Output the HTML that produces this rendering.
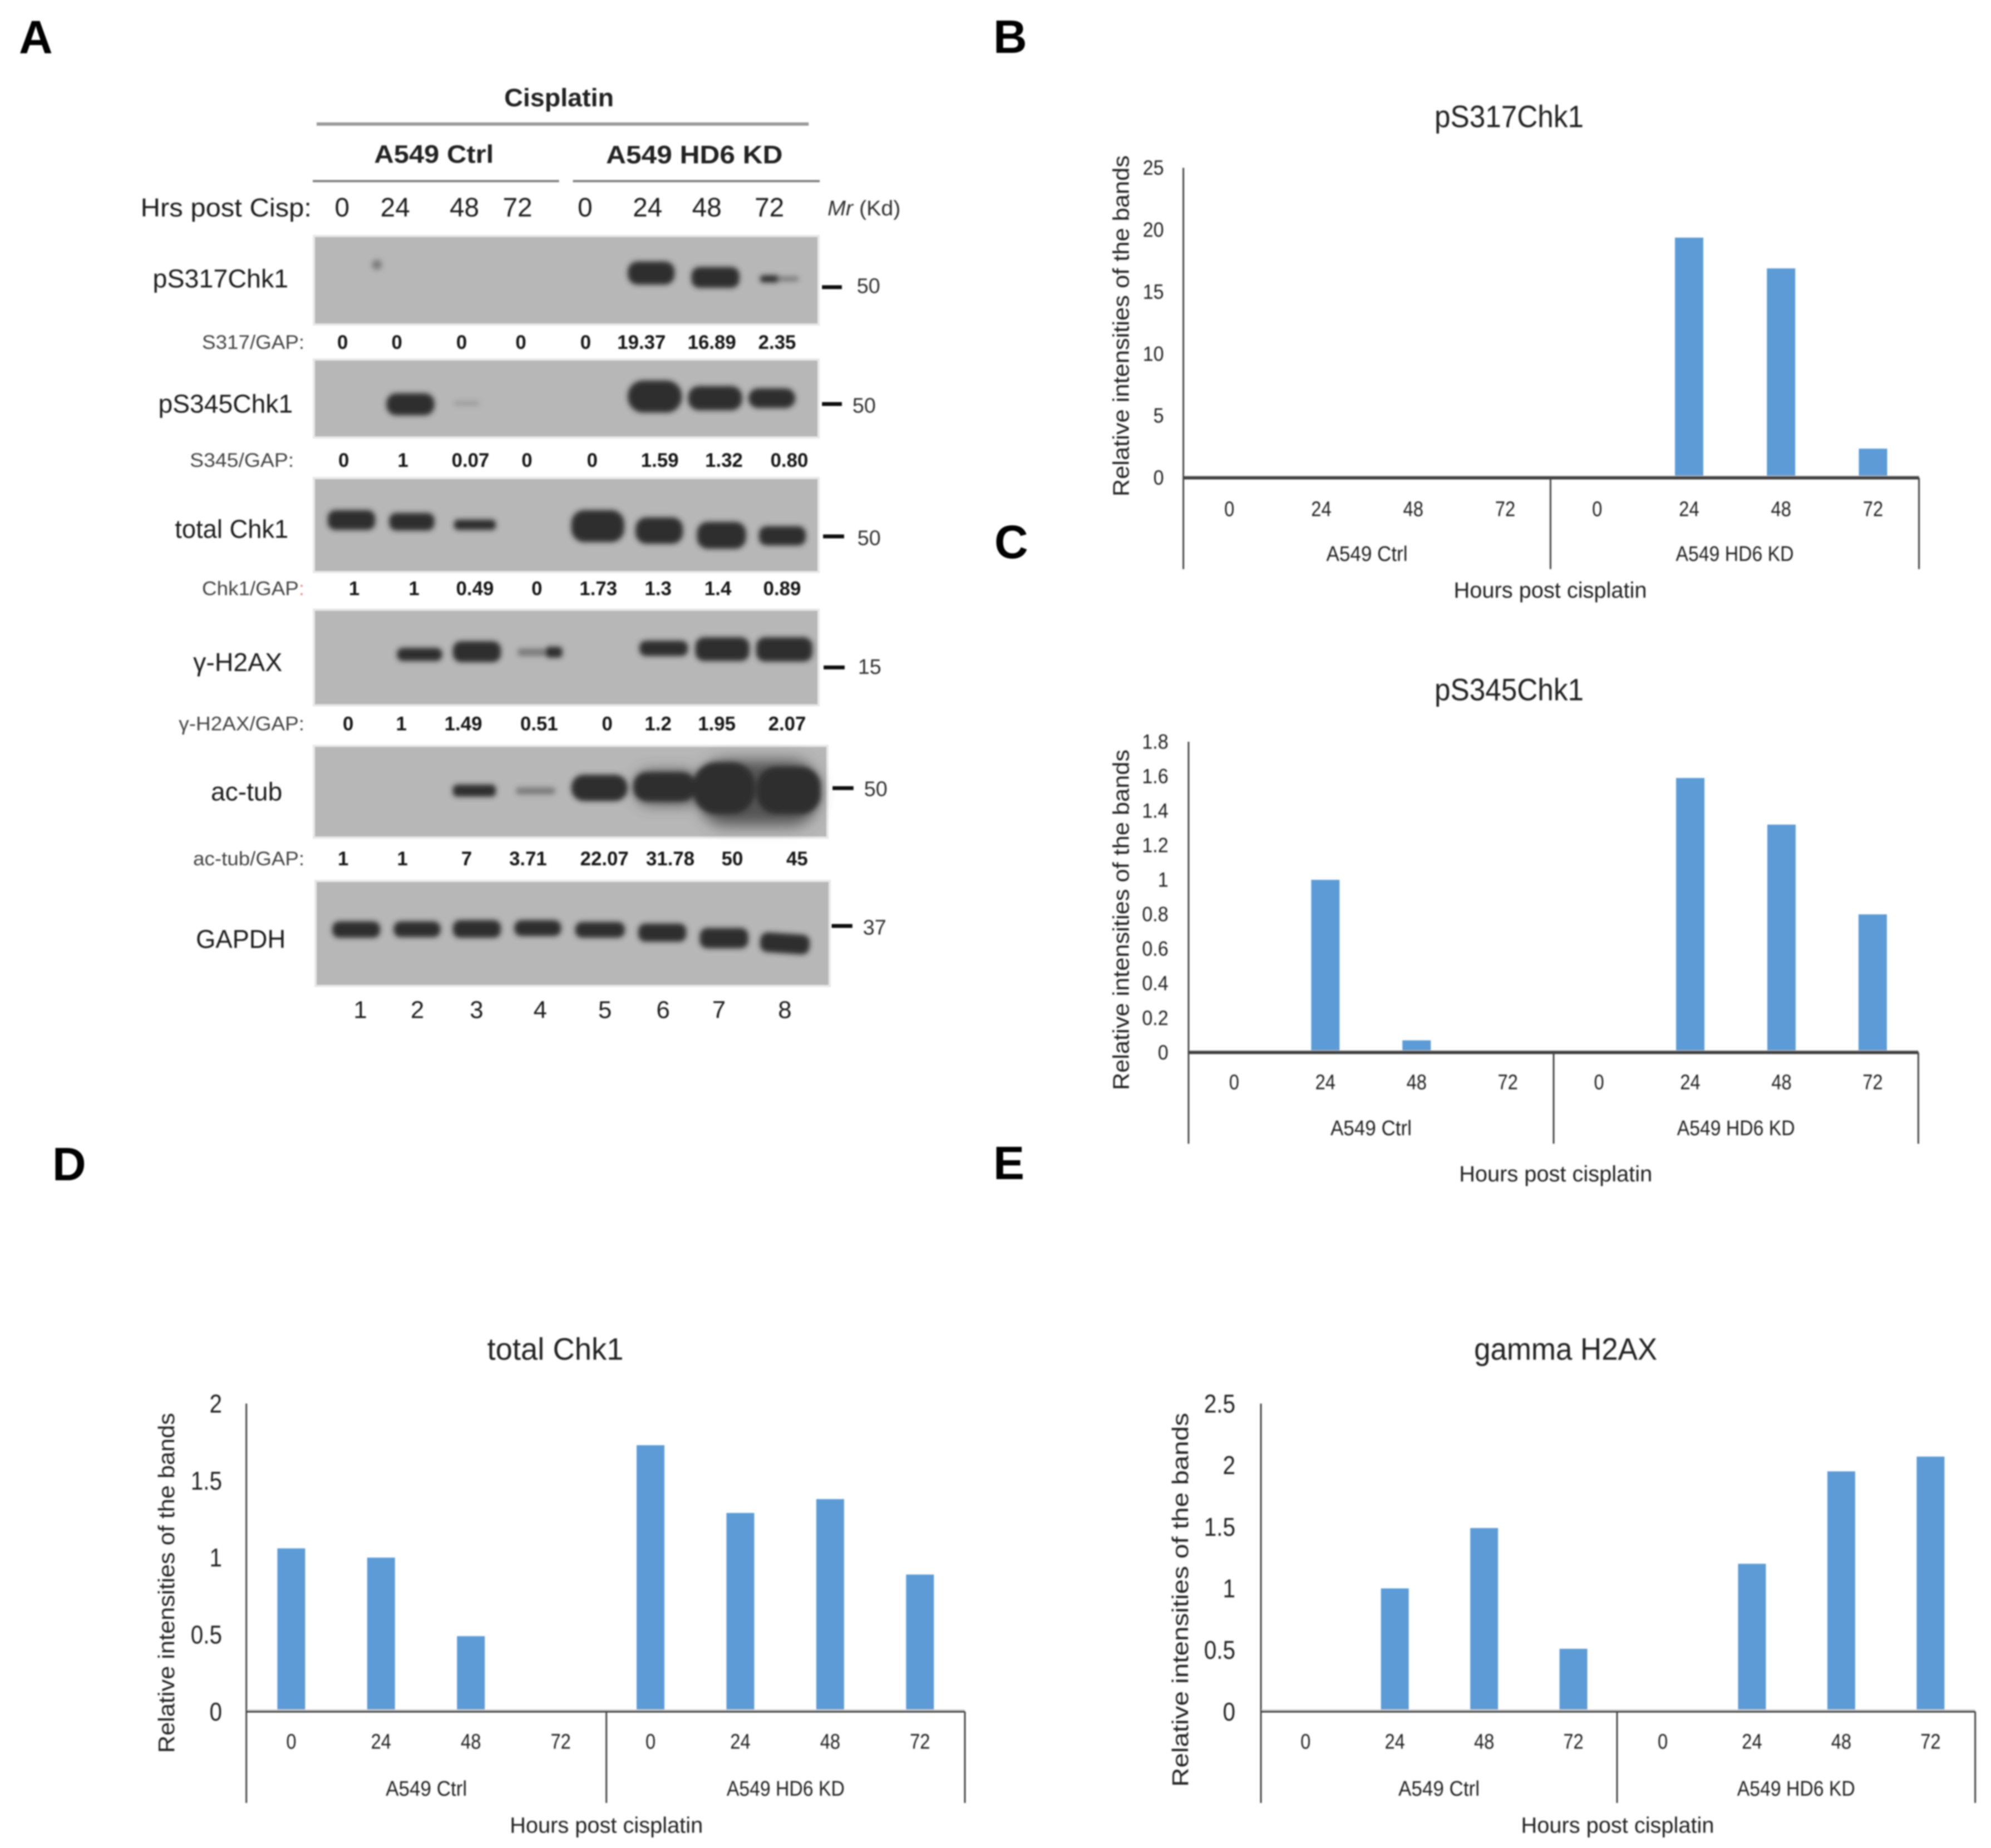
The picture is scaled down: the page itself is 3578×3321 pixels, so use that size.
<!DOCTYPE html>
<html lang="en">
<head>
<meta charset="utf-8">
<title>Cisplatin western blots and band intensity charts</title>
<style>
html,body{margin:0;padding:0;background:#fff;}
svg{display:block;}
text{font-family:"Liberation Sans",sans-serif;fill:#222;}
.lab{font-size:47px;fill:#1c1c1c;}
.ratio{font-size:35px;fill:#444;}
.val{font-size:35px;font-weight:bold;fill:#151515;text-anchor:middle;}
.hr{font-size:48px;fill:#1c1c1c;text-anchor:middle;}
.lane{font-size:44px;fill:#1c1c1c;text-anchor:middle;}
.mw{font-size:38px;fill:#333;}
.panel{font-size:84px;font-weight:bold;fill:#000;}
.blot{fill:#b7b7b7;stroke:#e8e8e8;stroke-width:4;}
.band{fill:#2d2d2d;}
.halo{fill:#555;}
.faint{fill:#7c7c7c;}
.mtick{fill:#111;}
</style>
</head>
<body>
<svg id="fig" xmlns="http://www.w3.org/2000/svg" width="3578" height="3321" viewBox="0 0 3578 3321">
<defs>
<filter id="soft" filterUnits="userSpaceOnUse" x="0" y="0" width="3578" height="3321"><feGaussianBlur stdDeviation="1.4"/></filter>
<filter id="bandBlur" filterUnits="userSpaceOnUse" x="0" y="0" width="3578" height="3321"><feGaussianBlur stdDeviation="4.5"/></filter>
<filter id="haloBlur" filterUnits="userSpaceOnUse" x="0" y="0" width="3578" height="3321"><feGaussianBlur stdDeviation="13"/></filter>
</defs>
<rect width="3578" height="3321" fill="#fff"/>
<g id="root" filter="url(#soft)">

<text class="panel" x="34" y="96">A</text>
<text class="panel" x="1785" y="95">B</text>
<text class="panel" x="1787" y="1003">C</text>
<text class="panel" x="94" y="2121">D</text>
<text class="panel" x="1785" y="2119">E</text>

<g transform="scale(.9947 .9953)">
<rect class="blot" x="567" y="426" width="912" height="160"/>
<rect class="blot" x="567" y="649" width="912" height="141"/>
<rect class="blot" x="567" y="863" width="912" height="170"/>
</g>
<g transform="translate(0 5.2) scale(.9947 .9948)">
<rect class="blot" x="567" y="1096" width="912" height="173"/>
<rect class="blot" x="567" y="1342" width="928" height="166"/>
<rect class="blot" x="570" y="1586" width="929" height="190"/>
</g>

<g filter="url(#haloBlur)">
<g transform="translate(0 5.2) scale(.9947 .9948)">
<rect class="halo" x="1262" y="1368" width="216" height="118" rx="50"/>
<rect class="halo" x="1150" y="1388" width="110" height="60" rx="25"/>
</g>
</g>

<g filter="url(#bandBlur)">
<g transform="scale(.9947 .9953)">
<circle class="faint" cx="681" cy="478" r="9"/>
<rect class="band" x="1134" y="472" width="85" height="42" rx="18"/>
<rect class="band" x="1249" y="482" width="87" height="38" rx="15"/>
<rect class="band" x="1373" y="497" width="36" height="13" rx="6"/>
<rect class="faint" x="1405" y="499" width="38" height="9" rx="4"/>

<rect class="band" x="698" y="710" width="87" height="40" rx="18"/>
<rect x="820" y="724" width="46" height="8" rx="4" fill="#9a9a9a"/>
<rect class="band" x="1134" y="687" width="98" height="58" rx="28"/>
<rect class="band" x="1243" y="697" width="98" height="44" rx="20"/>
<rect class="band" x="1352" y="701" width="85" height="36" rx="18"/>

<rect class="band" x="592" y="921" width="86" height="36" rx="14"/>
<rect class="band" x="703" y="926" width="82" height="32" rx="13"/>
<rect class="band" x="820" y="938" width="76" height="19" rx="8"/>
<rect class="band" x="1032" y="921" width="96" height="58" rx="24"/>
<rect class="band" x="1148" y="934" width="86" height="48" rx="20"/>
<rect class="band" x="1259" y="942" width="89" height="49" rx="20"/>
<rect class="band" x="1371" y="950" width="85" height="35" rx="14"/>
</g>
<g transform="translate(0 5.2) scale(.9947 .9948)">
<rect class="band" x="717" y="1165" width="82" height="24" rx="11"/>
<rect class="band" x="818" y="1153" width="87" height="38" rx="15"/>
<rect class="faint" x="935" y="1166" width="50" height="14" rx="6"/>
<rect class="band" x="985" y="1163" width="31" height="20" rx="7"/>
<rect class="band" x="1155" y="1152" width="88" height="28" rx="12"/>
<rect class="band" x="1256" y="1146" width="98" height="43" rx="16"/>
<rect class="band" x="1366" y="1146" width="102" height="44" rx="16"/>

<rect class="band" x="818" y="1412" width="78" height="22" rx="8"/>
<rect class="faint" x="932" y="1417" width="71" height="13" rx="6"/>
<rect class="band" x="1032" y="1394" width="102" height="48" rx="23"/>
<rect class="band" x="1144" y="1390" width="112" height="52" rx="24"/>
<rect class="band" x="1252" y="1372" width="112" height="93" rx="42"/>
<rect class="band" x="1367" y="1380" width="116" height="85" rx="36"/>

<rect class="band" x="600" y="1659" width="87" height="30" rx="13"/>
<rect class="band" x="711" y="1659" width="85" height="29" rx="13"/>
<rect class="band" x="818" y="1657" width="87" height="32" rx="13"/>
<rect class="band" x="929" y="1657" width="85" height="29" rx="13"/>
<rect class="band" x="1039" y="1660" width="90" height="29" rx="13"/>
<rect class="band" x="1153" y="1663" width="87" height="33" rx="13"/>
<rect class="band" x="1264" y="1671" width="88" height="37" rx="14"/>
<rect class="band" x="1373" y="1681" width="90" height="36" rx="14" transform="rotate(4 1418 1699)"/>
</g>
</g>

<g transform="scale(.9947 .9953)">
<text x="911" y="192" font-size="46" font-weight="bold" textLength="198" lengthAdjust="spacingAndGlyphs">Cisplatin</text>
<rect x="572" y="221" width="889" height="6" fill="#9a9a9a"/>
<text x="676" y="294" font-size="46" font-weight="bold" textLength="216" lengthAdjust="spacingAndGlyphs">A549 Ctrl</text>
<text x="1095" y="295" font-size="46" font-weight="bold" textLength="319" lengthAdjust="spacingAndGlyphs">A549 HD6 KD</text>
<rect x="565" y="325" width="445" height="4" fill="#808080"/>
<rect x="1035" y="325" width="446" height="4" fill="#808080"/>
<text class="lab" x="254" y="391" textLength="309" lengthAdjust="spacingAndGlyphs">Hrs post Cisp:</text>
<text class="hr" x="618" y="391">0</text>
<text class="hr" x="714" y="391">24</text>
<text class="hr" x="839" y="391">48</text>
<text class="hr" x="935" y="391">72</text>
<text class="hr" x="1057" y="391">0</text>
<text class="hr" x="1170" y="391">24</text>
<text class="hr" x="1277" y="391">48</text>
<text class="hr" x="1390" y="391">72</text>
<text class="mw" x="1495" y="389" textLength="132" lengthAdjust="spacingAndGlyphs"><tspan font-style="italic">Mr</tspan> (Kd)</text>

<text class="lab" x="276" y="519" textLength="245" lengthAdjust="spacingAndGlyphs">pS317Chk1</text>
<text class="lab" x="286" y="745" textLength="243" lengthAdjust="spacingAndGlyphs">pS345Chk1</text>
<text class="lab" x="316" y="971" textLength="205" lengthAdjust="spacingAndGlyphs">total Chk1</text>

<rect class="mtick" x="1485" y="515" width="36" height="7"/>
<text class="mw" x="1548" y="529">50</text>
<rect class="mtick" x="1485" y="726" width="36" height="7"/>
<text class="mw" x="1540" y="745">50</text>
<rect class="mtick" x="1487" y="965" width="38" height="7"/>
<text class="mw" x="1549" y="984">50</text>

<text class="ratio" x="365" y="630" textLength="185" lengthAdjust="spacingAndGlyphs">S317/GAP:</text>
<text class="val" x="619" y="630">0</text>
<text class="val" x="717" y="630">0</text>
<text class="val" x="834" y="630">0</text>
<text class="val" x="941" y="630">0</text>
<text class="val" x="1058" y="630">0</text>
<text class="val" x="1159" y="630">19.37</text>
<text class="val" x="1286" y="630">16.89</text>
<text class="val" x="1404" y="630">2.35</text>

<text class="ratio" x="343" y="843" textLength="188" lengthAdjust="spacingAndGlyphs">S345/GAP:</text>
<text class="val" x="621" y="843">0</text>
<text class="val" x="728" y="843">1</text>
<text class="val" x="850" y="843">0.07</text>
<text class="val" x="952" y="843">0</text>
<text class="val" x="1070" y="843">0</text>
<text class="val" x="1192" y="843">1.59</text>
<text class="val" x="1308" y="843">1.32</text>
<text class="val" x="1426" y="843">0.80</text>
</g>

<g transform="translate(0 5.2) scale(.9947 .9948)">
<text class="lab" x="349" y="1207" textLength="161" lengthAdjust="spacingAndGlyphs">γ-H2AX</text>
<text class="lab" x="381" y="1441" textLength="129" lengthAdjust="spacingAndGlyphs">ac-tub</text>
<text class="lab" x="354" y="1707" textLength="162" lengthAdjust="spacingAndGlyphs">GAPDH</text>

<rect class="mtick" x="1488" y="1197" width="38" height="7"/>
<text class="mw" x="1550" y="1212">15</text>
<rect class="mtick" x="1504" y="1415" width="38" height="7"/>
<text class="mw" x="1561" y="1433">50</text>
<rect class="mtick" x="1502" y="1664" width="38" height="7"/>
<text class="mw" x="1559" y="1683">37</text>

<text class="ratio" x="365" y="1070" textLength="185" lengthAdjust="spacingAndGlyphs">Chk1/GAP<tspan fill="#e88">:</tspan></text>
<text class="val" x="640" y="1070">1</text>
<text class="val" x="748" y="1070">1</text>
<text class="val" x="858" y="1070">0.49</text>
<text class="val" x="970" y="1070">0</text>
<text class="val" x="1081" y="1070">1.73</text>
<text class="val" x="1189" y="1070">1.3</text>
<text class="val" x="1297" y="1070">1.4</text>
<text class="val" x="1413" y="1070">0.89</text>

<text class="ratio" x="323" y="1314" textLength="227" lengthAdjust="spacingAndGlyphs">γ-H2AX/GAP:</text>
<text class="val" x="629" y="1314">0</text>
<text class="val" x="725" y="1314">1</text>
<text class="val" x="837" y="1314">1.49</text>
<text class="val" x="974" y="1314">0.51</text>
<text class="val" x="1097" y="1314">0</text>
<text class="val" x="1189" y="1314">1.2</text>
<text class="val" x="1295" y="1314">1.95</text>
<text class="val" x="1422" y="1314">2.07</text>

<text class="ratio" x="349" y="1558" textLength="201" lengthAdjust="spacingAndGlyphs">ac-tub/GAP:</text>
<text class="val" x="620" y="1558">1</text>
<text class="val" x="727" y="1558">1</text>
<text class="val" x="843" y="1558">7</text>
<text class="val" x="954" y="1558">3.71</text>
<text class="val" x="1092" y="1558">22.07</text>
<text class="val" x="1211" y="1558">31.78</text>
<text class="val" x="1323" y="1558">50</text>
<text class="val" x="1440" y="1558">45</text>

<text class="lane" x="651" y="1834">1</text>
<text class="lane" x="754" y="1834">2</text>
<text class="lane" x="861" y="1834">3</text>
<text class="lane" x="976" y="1834">4</text>
<text class="lane" x="1093" y="1834">5</text>
<text class="lane" x="1198" y="1834">6</text>
<text class="lane" x="1299" y="1834">7</text>
<text class="lane" x="1418" y="1834">8</text>
</g>
</g>
</svg>
<script>
var hourCategories = ['0', '24', '48', '72', '0', '24', '48', '72'];
var groupLabels = ['A549 Ctrl', 'A549 HD6 KD'];
var ps317Values = [0, 0, 0, 0, 0, 19.37, 16.89, 2.35];
var ps317Ticks = ['0', '5', '10', '15', '20', '25'];
var ps345Values = [0, 1, 0.07, 0, 0, 1.59, 1.32, 0.80];
var ps345Ticks = ['0', '0.2', '0.4', '0.6', '0.8', '1', '1.2', '1.4', '1.6', '1.8'];
var totalChk1Values = [1.06, 1, 0.49, 0, 1.73, 1.29, 1.38, 0.89];
var totalChk1Ticks = ['0', '0.5', '1', '1.5', '2'];
var gammaH2axValues = [0, 1, 1.49, 0.51, 0, 1.2, 1.95, 2.07];
var gammaH2axTicks = ['0', '0.5', '1', '1.5', '2', '2.5'];

var NS = 'http://www.w3.org/2000/svg';
var root = document.getElementById('root');

function mk(parent, tag, attrs) {
  var el = document.createElementNS(NS, tag);
  for (var k in attrs) el.setAttribute(k, attrs[k]);
  parent.appendChild(el);
  return el;
}

function numWidth(label, size, factor) {
  var w = 0;
  for (var i = 0; i < label.length; i++) w += label[i] === '.' ? 0.278 : 0.556;
  return w * size * factor;
}

function drawChart(id, title, values, ticks, L) {
  var g = mk(root, 'g', {});
  
  

  var yMax = parseFloat(ticks[ticks.length - 1]);
  function yScale(v) { return L.base - (v / yMax) * (L.base - L.top); }
  var step = (L.right - L.left) / values.length;
  function xScale(i) { return L.left + (i + 0.5) * step; }

  var t = mk(g, 'text', { x: L.titleX, y: L.titleY, 'font-size': 56, 'text-anchor': 'middle', 'dominant-baseline': 'central', textLength: L.titleLen, lengthAdjust: 'spacingAndGlyphs', fill: '#222' });
  t.textContent = title;
  
  

  values.forEach(function (v, i) {
    var top = yScale(v);
    var bar = mk(g, 'rect', { x: xScale(i) - L.barW / 2, y: top, width: L.barW, height: L.base - top, fill: '#5b9bd5' });
    
    
  });

  var under = mk(g, 'rect', { x: L.left, y: L.base - 4, width: L.right - L.left, height: 5, fill: '#d4d4d4' });
  
  

  var xAxis = mk(g, 'line', { x1: L.left, x2: L.right, y1: L.base, y2: L.base, stroke: L.axisCol, 'stroke-width': L.axisW });
  
  

  var yAxis = mk(g, 'line', { x1: L.left, x2: L.left, y1: L.top, y2: L.bottom, stroke: '#444', 'stroke-width': 3 });
  
  

  var mid = mk(g, 'line', { x1: L.sep, x2: L.sep, y1: L.base, y2: L.bottom, stroke: '#444', 'stroke-width': 3 });
  
  

  var end = mk(g, 'line', { x1: L.right, x2: L.right, y1: L.base, y2: L.bottom, stroke: '#444', 'stroke-width': 3 });
  
  

  ticks.forEach(function (label) {
    var tk = mk(g, 'text', { x: L.tickX, y: yScale(parseFloat(label)), 'font-size': L.tickSize, 'text-anchor': 'end', 'dominant-baseline': 'central', textLength: numWidth(label, L.tickSize, L.tickFactor), lengthAdjust: 'spacingAndGlyphs', fill: L.tickCol });
    tk.textContent = label;
    
    
  });

  hourCategories.forEach(function (label, i) {
    var c = mk(g, 'text', { x: xScale(i), y: L.catY, 'font-size': 38, 'text-anchor': 'middle', 'dominant-baseline': 'central', textLength: numWidth(label, 38, 0.86), lengthAdjust: 'spacingAndGlyphs', fill: '#444' });
    c.textContent = label;
    
    
  });

  groupLabels.forEach(function (label, i) {
    var cx = i === 0 ? (L.left + L.sep) / 2 : (L.sep + L.right) / 2;
    var gl = mk(g, 'text', { x: cx, y: L.groupY, 'font-size': 38, 'text-anchor': 'middle', 'dominant-baseline': 'central', textLength: i === 0 ? 146 : 212, lengthAdjust: 'spacingAndGlyphs', fill: '#444' });
    gl.textContent = label;
    
    
  });

  var xt = mk(g, 'text', { x: L.xTitleX, y: L.xTitleY, 'font-size': 40, 'text-anchor': 'middle', 'dominant-baseline': 'central', textLength: 347, lengthAdjust: 'spacingAndGlyphs', fill: '#444' });
  xt.textContent = 'Hours post cisplatin';
  
  

  var yt = mk(g, 'text', { x: 0, y: 0, 'font-size': 41, 'text-anchor': 'middle', 'dominant-baseline': 'central', textLength: L.yTitleLen, lengthAdjust: 'spacingAndGlyphs', fill: '#333', transform: 'translate(' + L.yTitleX + ' ' + L.yTitleY + ') rotate(-90)' });
  yt.textContent = 'Relative intensities of the bands';
  
  
}

drawChart('ps317-chart', 'pS317Chk1', ps317Values, ps317Ticks, {
  left: 2126.6, right: 3448.6, top: 301.6, base: 858.6, bottom: 1022.8, sep: 2786.4, barW: 51, axisW: 6, axisCol: '#404040',
  tickX: 2091.6, tickSize: 37, tickFactor: 0.92, tickCol: '#444', catY: 915.5, groupY: 996, xTitleX: 2786, xTitleY: 1061,
  titleX: 2712, titleY: 209, titleLen: 268, yTitleX: 2014.6, yTitleY: 585.7, yTitleLen: 613
});
drawChart('ps345-chart', 'pS345Chk1', ps345Values, ps345Ticks, {
  left: 2135.9, right: 3447.4, top: 1333, base: 1891.3, bottom: 2055.4, sep: 2792, barW: 51, axisW: 6, axisCol: '#404040',
  tickX: 2099.7, tickSize: 37, tickFactor: 0.92, tickCol: '#444', catY: 1945.3, groupY: 2028, xTitleX: 2795.7, xTitleY: 2110,
  titleX: 2712, titleY: 1239, titleLen: 268, yTitleX: 2014.6, yTitleY: 1653, yTitleLen: 612
});
drawChart('total-chk1-chart', 'total Chk1', totalChk1Values, totalChk1Ticks, {
  left: 442.7, right: 1734, top: 2522.4, base: 3075.9, bottom: 3240, sep: 1089.7, barW: 50, axisW: 3, axisCol: '#1c1c1c',
  tickX: 399, tickSize: 46, tickFactor: 0.88, tickCol: '#222', catY: 3130.6, groupY: 3215, xTitleX: 1089.7, xTitleY: 3280.6,
  titleX: 998, titleY: 2423.8, titleLen: 245, yTitleX: 299, yTitleY: 2844.6, yTitleLen: 611
});
drawChart('gamma-h2ax-chart', 'gamma H2AX', gammaH2axValues, gammaH2axTicks, {
  left: 2266, right: 3549.6, top: 2522.4, base: 3075.9, bottom: 3240, sep: 2906, barW: 50, axisW: 3, axisCol: '#1c1c1c',
  tickX: 2220, tickSize: 46, tickFactor: 0.88, tickCol: '#222', catY: 3130.6, groupY: 3215, xTitleX: 2907, xTitleY: 3280.6,
  titleX: 2813.6, titleY: 2423.8, titleLen: 329, yTitleX: 2121, yTitleY: 2875, yTitleLen: 672
});
</script>
</body>
</html>
